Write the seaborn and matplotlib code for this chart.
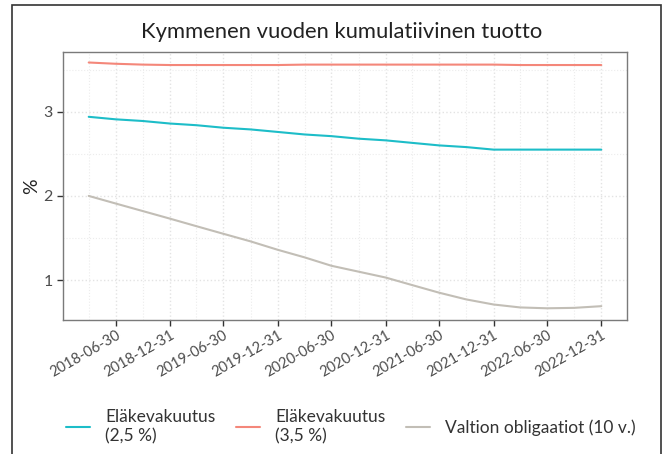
import numpy as np
import pandas as pd
import matplotlib
matplotlib.use('Agg')
import matplotlib.pyplot as plt
import matplotlib.dates as mdates
from matplotlib.patches import Rectangle
import seaborn as sns

# quarterly dates
dates = ['2018-03-31', '2018-06-30', '2018-09-30', '2018-12-31',
         '2019-03-31', '2019-06-30', '2019-09-30', '2019-12-31',
         '2020-03-31', '2020-06-30', '2020-09-30', '2020-12-31',
         '2021-03-31', '2021-06-30', '2021-09-30', '2021-12-31',
         '2022-03-31', '2022-06-30', '2022-09-30', '2022-12-31']
elake_25 = [2.94, 2.91, 2.89, 2.86, 2.84, 2.81, 2.79, 2.76, 2.73, 2.71,
            2.68, 2.66, 2.63, 2.60, 2.58, 2.55, 2.55, 2.55, 2.55, 2.55]
elake_35 = [3.585, 3.57, 3.56, 3.555, 3.555, 3.555, 3.555, 3.555, 3.56, 3.56,
            3.56, 3.56, 3.56, 3.56, 3.56, 3.56, 3.555, 3.555, 3.555, 3.555]
valtio = [2.00, 1.91, 1.82, 1.73, 1.64, 1.55, 1.46, 1.36, 1.27, 1.17,
          1.10, 1.03, 0.94, 0.85, 0.77, 0.71, 0.675, 0.665, 0.67, 0.69]
series = ['Eläkevakuutus\n(2,5 %)', 'Eläkevakuutus\n(3,5 %)', 'Valtion obligaatiot (10 v.)']
colors = ['#1DBDC8', '#F4877A', '#C2BEB6']
tick_dates = ['2018-06-30', '2018-12-31', '2019-06-30', '2019-12-31', '2020-06-30',
              '2020-12-31', '2021-06-30', '2021-12-31', '2022-06-30', '2022-12-31']

df = pd.DataFrame({
    'pvm': pd.to_datetime(dates * 3),
    'arvo': elake_25 + elake_35 + valtio,
    'sarja': np.repeat(series, len(dates)),
})

sns.set_style('white')
plt.rcParams['font.family'] = ['Lato', 'DejaVu Sans']

fig = plt.figure(figsize=(6.67, 4.54), dpi=100)
ax = fig.add_axes([0.0945, 0.2952, 0.8455, 0.5903])
sns.lineplot(data=df, x='pvm', y='arvo', hue='sarja', hue_order=series,
             palette=colors, linewidth=1.5, ax=ax)

xmin = pd.Timestamp('2018-03-31') - pd.Timedelta(days=87)
xmax = pd.Timestamp('2022-12-31') + pd.Timedelta(days=87)
ax.set_xlim(xmin, xmax)
ax.set_ylim(0.526, 3.71)

ax.set_xticks(pd.to_datetime(tick_dates))
ax.xaxis.set_major_formatter(mdates.DateFormatter('%Y-%m-%d'))
ax.set_xticks(pd.to_datetime(dates[::2]), minor=True)
ax.set_yticks([1, 2, 3])
ax.set_yticks([1.5, 2.5, 3.5], minor=True)
ax.grid(True, which='major', color='#e3e3e3', linestyle=':', linewidth=1)
ax.grid(True, which='minor', color='#ececec', linestyle=':', linewidth=0.8)
ax.tick_params(axis='both', which='major', length=4, width=1, color='#333333',
               labelcolor='#4d4d4d', direction='out', bottom=True, left=True)
ax.tick_params(axis='both', which='minor', length=0)
ax.tick_params(axis='x', labelsize=10.5, pad=2)
ax.tick_params(axis='y', labelsize=11.5)
for lab in ax.get_xticklabels():
    lab.set_rotation(30)
    lab.set_ha('right')
    lab.set_va('top')
    lab.set_rotation_mode('anchor')
for s in ax.spines.values():
    s.set_color('#7a7a7a')
    s.set_linewidth(1)

ax.set_xlabel('')
ax.set_ylabel('%', fontsize=14, color='#222222', labelpad=2)
fig.text(0.512, 0.93, 'Kymmenen vuoden kumulatiivinen tuotto', ha='center',
         va='center', fontsize=15.8, color='#222222')

ax.get_legend().remove()
handles, labels = ax.get_legend_handles_labels()
fig.legend(handles, labels, loc='center', bbox_to_anchor=(0.526, 0.06), ncol=3,
           frameon=False, fontsize=12.5, handlelength=1.4, handletextpad=0.85,
           columnspacing=1.2, labelcolor='#333333')

fig.patches.append(Rectangle((0.018, -0.01), 0.973, 1.0, transform=fig.transFigure,
                             fill=False, edgecolor='#333333', linewidth=1.2))

fig.savefig('out.png', dpi=100)
